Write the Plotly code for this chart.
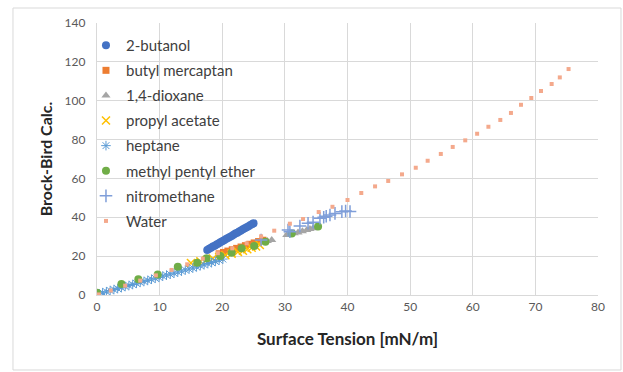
import plotly.graph_objects as go

# ---- data ----
butanol_x = [17.6, 17.9, 18.2, 18.5, 18.8, 19.1, 19.4, 19.7, 20.0, 20.3, 20.6, 20.9, 21.2,
             21.5, 21.8, 22.1, 22.4, 22.7, 23.0, 23.3, 23.6, 23.9, 24.2, 24.5, 24.8, 25.0]
butanol_y = [23.2, 23.8, 24.3, 24.9, 25.4, 26.0, 26.5, 27.1, 27.7, 28.2, 28.8, 29.3, 29.9,
             30.4, 31.0, 31.6, 32.1, 32.7, 33.2, 33.8, 34.3, 34.9, 35.4, 36.0, 36.5, 36.9]

mercaptan_x = [19.5, 20.2, 20.9, 21.6, 22.3, 23.0, 23.7, 24.4, 25.1, 25.8, 26.5]
mercaptan_y = [21.2, 21.9, 22.6, 23.3, 24.0, 24.7, 25.4, 26.1, 26.8, 27.5, 28.2]

dioxane_x = [26.5, 27.2, 27.9, 30.3, 30.8, 31.5, 32.1, 32.8, 33.5, 34.0, 34.5]
dioxane_y = [27.2, 27.8, 28.3, 30.9, 31.3, 31.8, 32.2, 32.8, 33.5, 34.0, 34.3]

propyl_x = [15.0, 16.5, 17.5, 18.5, 19.5, 20.5, 21.5, 22.5, 23.3, 24.0, 24.7, 25.4, 26.0]
propyl_y = [16.5, 17.3, 18.0, 18.8, 19.6, 20.5, 21.3, 22.2, 22.8, 23.5, 24.3, 25.0, 25.7]

heptane_x = [0.3, 0.9, 1.5, 2.1, 2.7, 3.3, 3.9, 4.5, 5.1, 5.7, 6.3, 6.9, 7.5, 8.1, 8.7, 9.3,
             9.9, 10.5, 11.1, 11.7, 12.3, 12.9, 13.5, 14.1, 14.7, 15.3, 15.9, 16.5, 17.1,
             17.7, 18.3, 18.9, 19.5, 20.1]
heptane_y = [0.6, 1.2, 1.7, 2.3, 2.8, 3.3, 3.8, 4.4, 4.9, 5.4, 6.0, 6.5, 7.0, 7.5, 8.1, 8.6,
             9.1, 9.7, 10.2, 10.7, 11.2, 11.8, 12.3, 12.9, 13.4, 13.9, 14.5, 15.1, 15.6,
             16.2, 16.7, 17.3, 17.9, 18.5]

ether_x = [0.0, 3.9, 6.6, 9.7, 12.9, 16.0, 17.5, 19.7, 21.5, 23.1, 25.1, 26.9, 31.1, 35.3]
ether_y = [1.2, 5.7, 8.1, 10.5, 14.6, 16.6, 18.9, 20.1, 21.8, 24.0, 25.2, 27.4, 31.7, 35.2]

nitro_x = [26.2, 30.5, 30.8, 32.4, 33.7, 34.5, 35.6, 36.2, 36.6, 37.2, 38.0, 39.1, 39.7, 40.4]
nitro_y = [28.3, 33.4, 32.6, 35.5, 36.9, 37.5, 39.5, 40.0, 40.5, 41.2, 42.0, 42.9, 43.2, 43.0]

water_x = [75.3, 73.9, 72.6, 70.9, 69.35, 67.7, 66.1, 64.4, 62.5, 60.7, 58.8, 56.8, 54.9,
           52.8, 50.9, 48.7, 46.5, 44.4, 42.2, 40.0, 37.6, 35.4, 32.9, 30.8, 28.3, 26.2,
           23.9, 21.6, 19.3, 16.9, 14.4, 11.9, 9.4, 6.9, 4.5, 2.2, 0.3]
water_y = [116.3, 112.0, 108.6, 105.0, 101.4, 97.9, 93.7, 90.1, 86.6, 83.0, 79.6, 76.2, 72.6,
           69.1, 65.5, 62.1, 58.7, 55.9, 52.5, 48.9, 45.4, 42.7, 39.1, 36.7, 33.1, 30.2,
           26.6, 24.0, 21.5, 18.7, 15.8, 12.9, 10.1, 7.4, 4.8, 2.3, 0.3]

x_ticks = [0, 10, 20, 30, 40, 50, 60, 70, 80]
y_ticks = [0, 20, 40, 60, 80, 100, 120, 140]

FONT = "Lato"

fig = go.Figure()

def add(name, xs, ys, color, symbol, size, lw=0, open_sym=False):
    marker = dict(symbol=symbol, size=size, color=color)
    if open_sym:
        marker["line"] = dict(color=color, width=lw)
    else:
        marker["line"] = dict(width=0)
    fig.add_trace(go.Scatter(x=xs, y=ys, mode="markers", name=name, marker=marker,
                             legendgroup=name))

add("2-butanol", butanol_x, butanol_y, "#4472C4", "circle", 8)
add("butyl mercaptan", mercaptan_x, mercaptan_y, "#ED7D31", "square", 7)
add("1,4-dioxane", dioxane_x, dioxane_y, "#A5A5A5", "triangle-up", 8)
add("propyl acetate", propyl_x, propyl_y, "#FFC000", "x-thin-open", 8, 1.5, True)
add("heptane", heptane_x, heptane_y, "#5B9BD5", "asterisk-open", 8, 1, True)
add("methyl pentyl ether", ether_x, ether_y, "#70AD47", "circle", 8)
add("nitromethane", nitro_x, nitro_y, "#7F9ED9", "cross-thin-open", 9, 1.5, True)
add("Water", water_x, water_y, "#F4A98C", "square", 4)

fig.update_layout(
    width=623, height=372,
    margin=dict(l=97, r=25, t=23, b=77),
    paper_bgcolor="white", plot_bgcolor="white",
    font=dict(family=FONT, color="#595959"),
    showlegend=True,
    legend=dict(x=-0.022, y=0.978, xanchor="left", yanchor="top",
                bgcolor="rgba(0,0,0,0)", font=dict(size=15, color="#404040", family=FONT),
                tracegroupgap=2.6, itemwidth=30, traceorder="grouped"),
    xaxis=dict(range=[0, 80], tickvals=x_ticks, showgrid=True, gridcolor="#D9D9D9",
               gridwidth=1.3, zeroline=False, showline=True, linecolor="#D9D9D9", linewidth=1.3,
               ticks="", tickfont=dict(size=12, color="#595959"),
               title=dict(text="<b>Surface Tension [mN/m]</b>", font=dict(size=17, color="#262626"),
                          standoff=20)),
    yaxis=dict(range=[0, 140], tickvals=y_ticks, showgrid=True, gridcolor="#D9D9D9",
               gridwidth=1.3, zeroline=False, showline=True, linecolor="#D9D9D9", linewidth=1.3,
               ticks="", ticklabelstandoff=8, tickfont=dict(size=12, color="#595959"),
               title=dict(text="<b>Brock-Bird Calc.</b>", font=dict(size=16, color="#262626"),
                          standoff=7)),
)

# outer chart border
fig.add_shape(type="rect", xref="paper", yref="paper", x0=-0.1677, x1=1.0459, y0=-0.2757, y1=1.0551,
              line=dict(color="#D9D9D9", width=1), layer="below")

fig.write_html("out.html")
